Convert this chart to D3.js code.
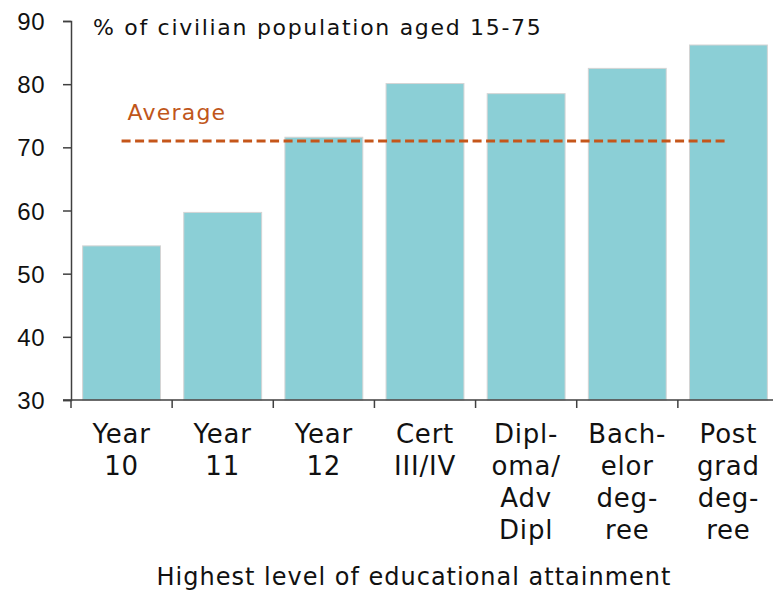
<!DOCTYPE html>
<html>
<head>
<meta charset="utf-8">
<script src="https://cdn.jsdelivr.net/npm/d3@7"></script>
<style>
  body { margin: 0; background: #fff; }
  svg { display: block; font-family: "Century Gothic", "DejaVu Sans", sans-serif; }
  .axis path, .axis line { stroke: #404040; stroke-width: 1.5; }
  .axis text { fill: #111; }
</style>
</head>
<body>
<div id="chart"></div>
<script>
// data
const categories = [
  ["Year", "10"],
  ["Year", "11"],
  ["Year", "12"],
  ["Cert", "III/IV"],
  ["Dipl-", "oma/", "Adv", "Dipl"],
  ["Bach-", "elor", "deg-", "ree"],
  ["Post", "grad", "deg-", "ree"]
];
const values = [54.4, 59.7, 71.6, 80.1, 78.5, 82.5, 86.2];
const average = 71.0;
const yTicks = [30, 40, 50, 60, 70, 80, 90];

// dimensions
const WIDTH = 773;
const HEIGHT = 593;
const LEFT = 71;
const RIGHT = 779;
const TOP = 21;
const BOTTOM = 400;
const TICK = 8;

const $svg = d3.select("#chart").append("svg")
  .attr("width", WIDTH)
  .attr("height", HEIGHT);

// scales
const scaleX = d3.scaleBand()
  .domain(d3.range(categories.length))
  .range([LEFT, RIGHT])
  .paddingInner(0.23)
  .paddingOuter(0.115);
const scaleY = d3.scaleLinear().domain([30, 90]).range([BOTTOM, TOP]);
const step = scaleX.step();

// bars
$svg.append("g").attr("class", "bars")
  .selectAll("rect")
  .data(values)
  .join("rect")
  .attr("x", (d, i) => scaleX(i))
  .attr("y", d => scaleY(d))
  .attr("width", scaleX.bandwidth())
  .attr("height", d => scaleY(30) - scaleY(d))
  .attr("fill", "#8bcfd6")
  .attr("stroke", "#d4d4d4")
  .attr("stroke-width", 1);

// y axis
const $yAxis = $svg.append("g")
  .attr("class", "axis")
  .attr("transform", `translate(${LEFT},0)`)
  .call(d3.axisLeft(scaleY).tickValues(yTicks).tickSize(TICK).tickPadding(18));
$yAxis.selectAll("text")
  .style("font-size", "24px")
  .style("letter-spacing", "0.5px")
  .attr("dy", "0.36em");

// x axis: line + boundary ticks
const $xAxis = $svg.append("g").attr("class", "axis");
$xAxis.append("line")
  .attr("x1", LEFT - TICK).attr("x2", WIDTH)
  .attr("y1", BOTTOM).attr("y2", BOTTOM);
$xAxis.selectAll(".bound")
  .data(d3.range(categories.length + 1))
  .join("line")
  .attr("class", "bound")
  .attr("x1", i => LEFT + i * step)
  .attr("x2", i => LEFT + i * step)
  .attr("y1", BOTTOM)
  .attr("y2", BOTTOM + TICK);

// category labels
$xAxis.selectAll(".cat")
  .data(categories)
  .join("text")
  .attr("class", "cat")
  .attr("text-anchor", "middle")
  .style("font-size", "26px")
  .style("letter-spacing", "0.8px")
  .each(function (lines, i) {
    const cx = scaleX(i) + scaleX.bandwidth() / 2;
    d3.select(this).selectAll("tspan")
      .data(lines)
      .join("tspan")
      .attr("x", cx)
      .attr("y", (d, j) => 443 + j * 32)
      .text(d => d);
  });

// average line
const avgX1 = scaleX(0) + scaleX.bandwidth() / 2;
const avgX2 = scaleX(categories.length - 1) + scaleX.bandwidth() / 2;
$svg.append("line")
  .attr("x1", avgX1).attr("x2", avgX2)
  .attr("y1", scaleY(average)).attr("y2", scaleY(average))
  .attr("stroke", "#c5561a")
  .attr("stroke-width", 3)
  .attr("stroke-dasharray", "9 4.5");
$svg.append("text")
  .attr("x", avgX1 + 6)
  .attr("y", 120)
  .style("font-size", "22px")
  .style("letter-spacing", "1.2px")
  .attr("fill", "#c0561a")
  .text("Average");

// titles
$svg.append("text")
  .attr("x", 93)
  .attr("y", 35)
  .style("font-size", "22px")
  .style("letter-spacing", "1.7px")
  .attr("fill", "#111")
  .text("% of civilian population aged 15-75");
$svg.append("text")
  .attr("x", 414)
  .attr("y", 585)
  .attr("text-anchor", "middle")
  .style("font-size", "24px")
  .style("letter-spacing", "1px")
  .attr("fill", "#111")
  .text("Highest level of educational attainment");
</script>
</body>
</html>
